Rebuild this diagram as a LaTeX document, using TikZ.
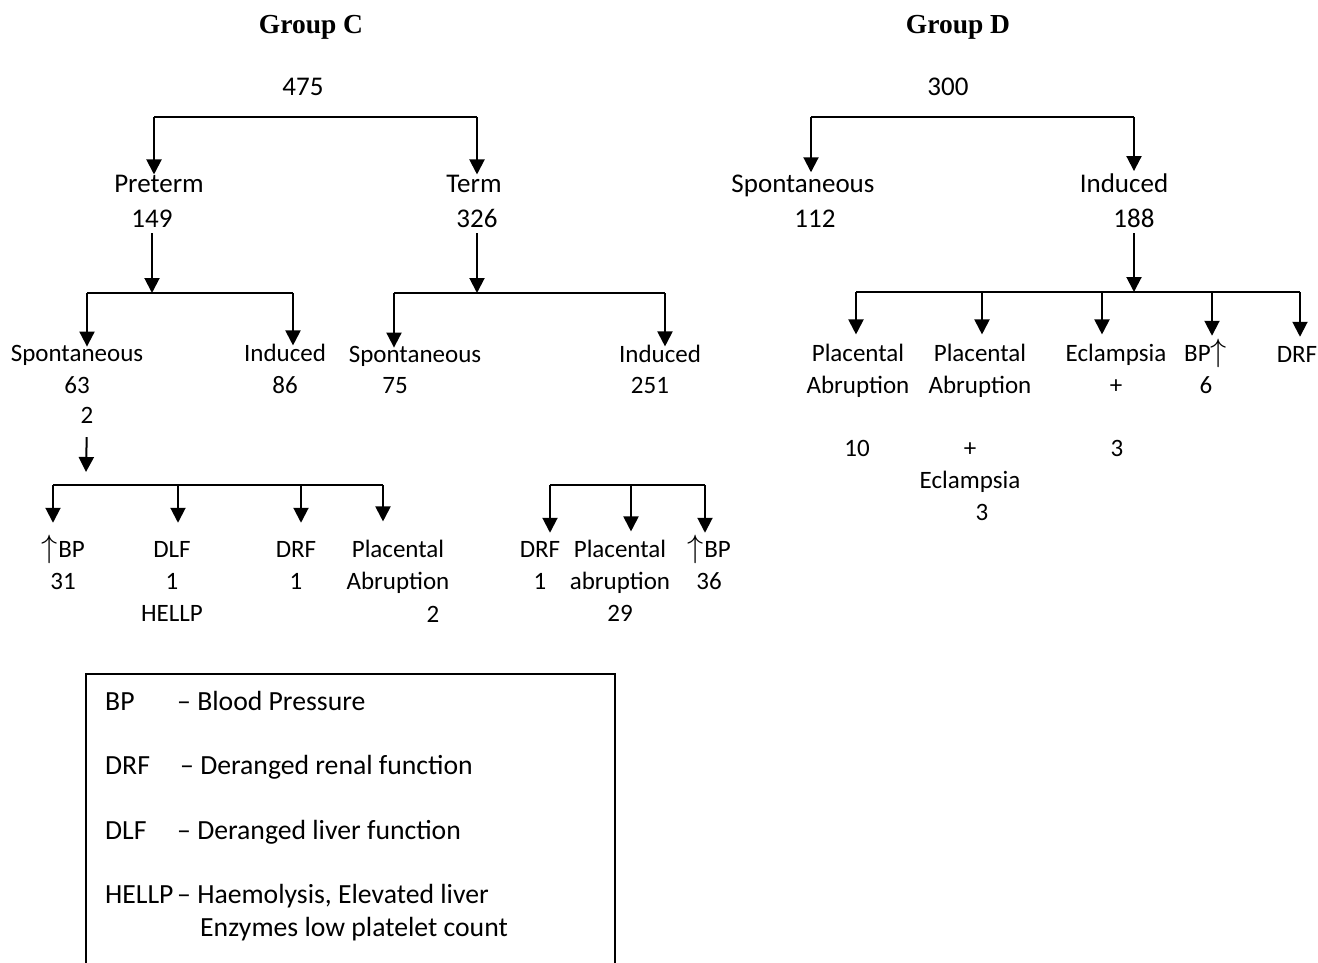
\documentclass[tikz,border=0pt]{standalone}
\usepackage{fontspec}
\setmainfont{Carlito}
\newfontfamily\grpfont{Liberation Serif}
\newcommand{\uparr}{\smash{\scalebox{1.3}{\(\uparrow\)}}\kern1pt}
\usetikzlibrary{positioning,arrows.meta}

\begin{document}
\begin{tikzpicture}[x=1pt, y=-1pt,
  txt/.style={inner sep=0pt, anchor=base, align=center, font=\fontsize{25}{32}\selectfont},
  big/.style={txt, font=\fontsize{27}{34}\selectfont},
  grp/.style={inner sep=0pt, anchor=base, font=\grpfont\bfseries\fontsize{27.5}{30}\selectfont},
  key/.style={inner sep=0pt, anchor=base west, font=\fontsize{27.7}{33}\selectfont},
  link/.style={line width=2pt},
  arr/.style={link, -{Triangle[width=15pt,length=15pt]}}]
  \useasboundingbox (0,0) rectangle (1318,963);

  % --- Titles ---
  \node[grp] (gc) at (311,34) {Group C};
  \node[grp] (gd) at (958,34) {Group D};

  % --- Group C: first split ---
  \node[big] (c475) at (303,96) {475};
  \coordinate (c1l) at (154,117);
  \coordinate (c1r) at (477,117);
  \node[big] (cpre) at (159,193) {Preterm};
  \node[big] (cpre2) at (152,227) {149};
  \node[big] (cterm) at (474,193) {Term};
  \node[big] (cterm2) at (477,227) {326};
  \draw[link] (c1l) -- (c1r);
  \draw[arr, shorten >=1pt] (c1l) -- (c1l |- cpre.north);
  \draw[arr, shorten >=1pt] (c1r) -- (c1r |- cterm.north);

  % --- Group C: preterm ---
  \coordinate (c2l) at (87,293);
  \coordinate (c2r) at (293,293);
  \node[txt] (cps) at (77,393) {Spontaneous\\63};
  \node[txt] (cps2) at (87,423) {2};
  \node[txt] (cpi) at (285,393) {Induced\\86};
  \draw[arr, shorten <=6pt] (cpre2.south) -- (cpre2.south |- c2l);
  \draw[link] (c2l) -- (c2r);
  \draw[arr, shorten >=-2pt] (c2l) -- (c2l |- cps.north);
  \draw[arr, shorten >=-2pt] (c2r) -- (c2r |- cpi.north);

  % --- Group C: term ---
  \coordinate (c3l) at (394,293);
  \coordinate (c3r) at (665,293);
  \node[txt] (cts) at (415,362) {Spontaneous};
  \node[txt] (cts2) at (395,393) {75};
  \node[txt] (cti) at (660,362) {Induced};
  \node[txt] (cti2) at (650,393) {251};
  \draw[arr, shorten <=6pt] (cterm2.south) -- (cterm2.south |- c3l);
  \draw[link] (c3l) -- (c3r);
  \draw[arr, shorten >=-2pt] (c3l) -- (c3l |- cts.north);
  \draw[arr, shorten >=-2pt] (c3r) -- (c3r |- cti.north);

  % --- Group C: outcomes of spontaneous preterm ---
  \coordinate (c4in) at (86,472);
  \coordinate (c4a) at (53,485);
  \coordinate (c4b) at (178,485);
  \coordinate (c4c) at (301,485);
  \coordinate (c4d) at (383,485);
  \node[txt] (cbp) at (63,589) {\uparr BP\\31};
  \node[txt] (cdlf) at (172,621) {DLF\\1\\HELLP};
  \node[txt] (cdrf) at (296,589) {DRF\\1};
  \node[txt] (cpa) at (398,589) {Placental\\Abruption};
  \node[txt] (cpa2) at (433,622) {2};
  \draw[arr, shorten <=14pt] (cps2.south) -- (c4in);
  \draw[link] (c4a) -- (c4d);
  \foreach \c/\n in {c4a/cbp, c4b/cdlf, c4c/cdrf, c4d/cpa}
    \draw[arr, shorten >=18pt] (\c) -- (\c |- \n.north);

  % --- Group C: outcomes of induced term ---
  \coordinate (c5a) at (550,485);
  \coordinate (c5b) at (631,485);
  \coordinate (c5c) at (705,485);
  \node[txt] (cdrf2) at (540,589) {DRF\\1};
  \node[txt] (cpa3) at (620,621) {Placental\\abruption\\29};
  \node[txt] (cbp2) at (709,589) {\uparr BP\\36};
  \draw[link] (c5a) -- (c5c);
  \foreach \c/\n in {c5a/cdrf2, c5b/cpa3, c5c/cbp2}
    \draw[arr, shorten >=8pt] (\c) -- (\c |- \n.north);

  % --- Group D ---
  \node[big] (d300) at (948,96) {300};
  \coordinate (d1l) at (811,117);
  \coordinate (d1r) at (1134,117);
  \node[big] (dsp) at (803,193) {Spontaneous};
  \node[big] (dsp2) at (815,227) {112};
  \node[big] (dind) at (1124,193) {Induced};
  \node[big] (dind2) at (1134,227) {188};
  \draw[link] (d1l) -- (d1r);
  \draw[arr, shorten >=3pt] (d1l) -- (d1l |- dsp.north);
  \draw[arr, shorten >=3pt] (d1r) -- (d1r |- dind.north);

  % --- Group D: outcomes of induced ---
  \coordinate (d2a) at (856,292);
  \coordinate (d2b) at (982,292);
  \coordinate (d2c) at (1102,292);
  \coordinate (d2d) at (1212,292);
  \coordinate (d2e) at (1300,292);
  \node[txt] (dpa) at (858,393) {Placental\\Abruption};
  \node[txt] (dpa2) at (857,456) {10};
  \node[txt] (dpe) at (980,393) {Placental\\Abruption};
  \node[txt] (dpe2) at (970,488) {+\\Eclampsia};
  \node[txt] (dpe3) at (982,520) {3};
  \node[txt] (dec) at (1116,393) {Eclampsia\\+};
  \node[txt] (dec2) at (1117,456) {3};
  \node[txt] (dbp) at (1206,393) {BP\uparr\\6};
  \node[txt] (ddrf) at (1297,362) {DRF};
  \draw[arr, shorten <=6pt] (dind2.south) -- (dind2.south |- d2a);
  \draw[link] (d2a) -- (d2e);
  \foreach \c/\n in {d2a/dpa, d2b/dpe, d2c/dec, d2d/dbp, d2e/ddrf}
    \draw[arr, shorten >=9pt] (\c) -- (\c |- \n.north);

  % --- Key (box runs off the page) ---
  \draw[line width=1.5pt] (86,963) |- (615,674) -- (615,963);
  \node[key] (kbp) at (105,710) {BP};
  \node[key] (kbpd) at (177,710) {– Blood Pressure};
  \node[key] (kdrf) at (105,774) {DRF};
  \node[key] (kdrfd) at (180,774) {– Deranged renal function};
  \node[key] (kdlf) at (105,839) {DLF};
  \node[key] (kdlfd) at (177,839) {– Deranged liver function};
  \node[key] (khl) at (105,903) {HELLP};
  \node[key] (khld) at (177,903) {– Haemolysis, Elevated liver};
  \node[key] (khld2) at (200,936) {Enzymes low platelet count};
\end{tikzpicture}
\end{document}
